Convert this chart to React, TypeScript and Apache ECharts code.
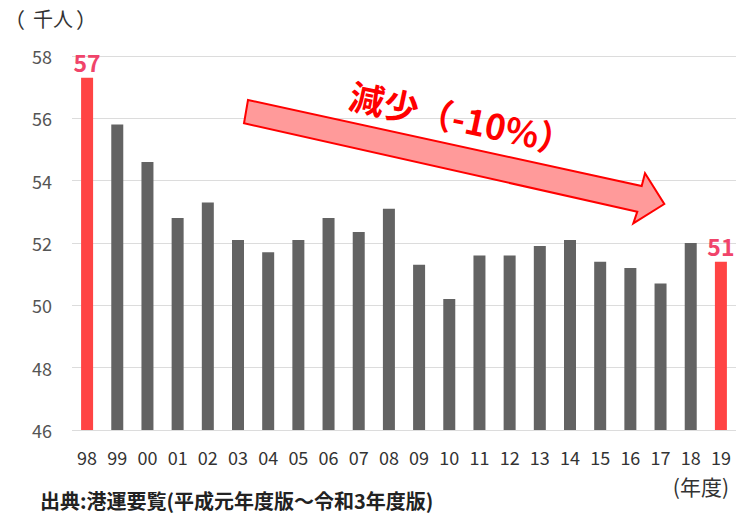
import React, { useEffect, useRef } from "react";
import * as echarts from "echarts";

const years = ["98","99","00","01","02","03","04","05","06","07","08","09","10","11","12","13","14","15","16","17","18","19"];
const workers = [57.3,55.8,54.6,52.8,53.3,52.1,51.7,52.1,52.8,52.35,53.1,51.3,50.2,51.6,51.6,51.9,52.1,51.4,51.2,50.7,52.0,51.4];
const highlighted = ["98", "19"];
const yTicks = [46, 48, 50, 52, 54, 56, 58];

const FONT = "'Noto Sans CJK JP', 'Noto Sans', sans-serif";

export default function App() {
  const ref = useRef<HTMLDivElement>(null);
  useEffect(() => {
    if (!ref.current) return;
    const chart = echarts.init(ref.current, null, { renderer: "svg" });
    const data = workers.map((v, i) => {
      const hi = highlighted.includes(years[i]);
      return {
        value: v,
        itemStyle: { color: hi ? "#ff4444" : "#636363" },
        label: hi
          ? {
              show: true,
              position: "top",
              distance: 4,
              formatter: (p: any) => String(Math.floor(p.value)),
              color: "#f0446a",
              fontSize: 23,
              fontWeight: "bold",
              fontFamily: FONT,
            }
          : { show: false },
      };
    });
    chart.setOption({
      animation: false,
      backgroundColor: "#ffffff",
      grid: { left: 72, right: 1, top: 56, bottom: 83 },
      xAxis: {
        type: "category",
        data: years,
        axisLine: { show: false },
        axisTick: { show: false },
        axisLabel: { color: "#333", fontSize: 18, fontFamily: FONT, margin: 18, interval: 0 },
      },
      yAxis: {
        type: "value",
        min: yTicks[0],
        max: yTicks[yTicks.length - 1],
        interval: 2,
        axisLine: { show: false },
        axisTick: { show: false },
        axisLabel: { color: "#555", fontSize: 18, fontFamily: FONT, margin: 20 },
        splitLine: { lineStyle: { color: "#dcdcdc", width: 1 } },
      },
      series: [
        {
          type: "bar",
          data,
          barWidth: 12,
        },
      ],
      graphic: [
        { type: "text", left: 4, top: 8, style: { text: "（", fontSize: 21, fontFamily: FONT, fill: "#333" } },
        { type: "text", left: 33, top: 8, style: { text: "千人", fontSize: 20, fontFamily: FONT, fill: "#333" } },
        { type: "text", left: 76, top: 8, style: { text: "）", fontSize: 21, fontFamily: FONT, fill: "#333" } },
        {
          type: "polygon",
          shape: {
            points: [
              [248, 100],
              [641.7, 186],
              [645, 173.3],
              [664.3, 204],
              [633.3, 223.3],
              [637.3, 211.7],
              [244, 123.3],
            ],
          },
          style: { fill: "#ff9a9a", stroke: "#ff0000", lineWidth: 2 },
          z: 10,
        },
        {
          type: "text",
          x: 462,
          y: 117,
          rotation: -0.21,
          style: {
            text: "減少（-10%）",
            fontSize: 35,
            fontWeight: "bold",
            fontFamily: FONT,
            fill: "#ff0000",
            align: "center",
            verticalAlign: "middle",
          },
          z: 10,
        },
        {
          type: "text",
          right: 8,
          top: 475,
          style: { text: "(年度)", fontSize: 21, fontFamily: FONT, fill: "#333" },
        },
        {
          type: "text",
          left: 40,
          top: 490,
          style: { text: "出典:港運要覧(平成元年度版～令和3年度版)", fontSize: 20, fontWeight: "bold", fontFamily: FONT, fill: "#222" },
        },
      ],
    });
    return () => chart.dispose();
  }, []);
  return <div ref={ref} style={{ position: "fixed", left: 0, top: 0, width: 737, height: 513 }} />;
}
